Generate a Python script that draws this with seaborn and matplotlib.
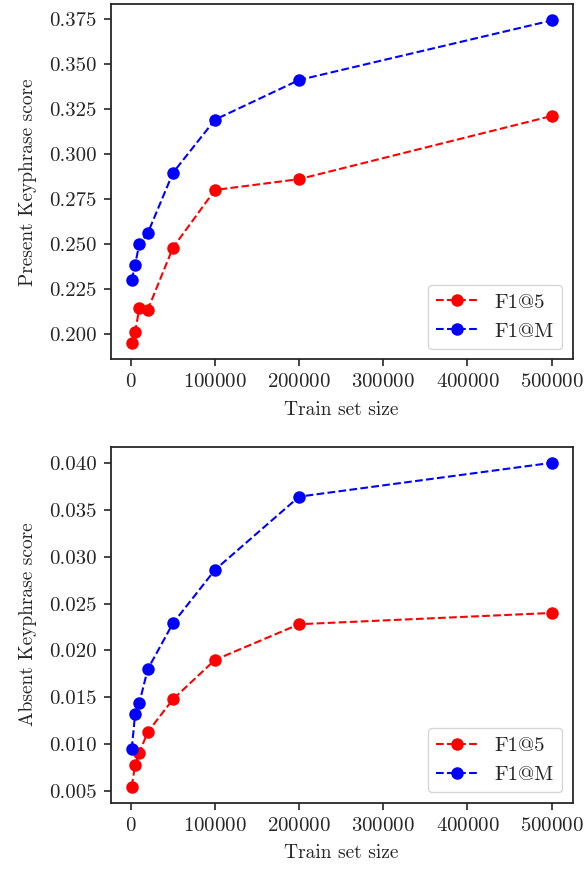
import matplotlib
matplotlib.use('Agg')
import matplotlib.pyplot as plt
from matplotlib.ticker import FormatStrFormatter
import seaborn as sns
import pandas as pd

# train set sizes
train_size = [1000, 5000, 10000, 20000, 50000, 100000, 200000, 500000]

# present keyphrase scores
present_f1_5 = [0.195, 0.201, 0.2145, 0.2135, 0.248, 0.280, 0.286, 0.321]
present_f1_m = [0.230, 0.2385, 0.250, 0.256, 0.2895, 0.319, 0.341, 0.374]

# absent keyphrase scores
absent_f1_5 = [0.0055, 0.0078, 0.0091, 0.0113, 0.0148, 0.0190, 0.0228, 0.0240]
absent_f1_m = [0.0095, 0.0132, 0.0144, 0.0180, 0.0229, 0.0286, 0.0364, 0.0400]

sns.set_style('ticks')
plt.rcParams['font.family'] = ['cmr10', 'DejaVu Serif']
plt.rcParams['axes.formatter.use_mathtext'] = True
plt.rcParams['font.size'] = 14
plt.rcParams['xtick.labelsize'] = 15
plt.rcParams['ytick.labelsize'] = 15

fig = plt.figure(figsize=(5.86, 8.69), dpi=100)
ax1 = fig.add_axes([0.189, 0.5865, 0.788, 0.4085])
ax2 = fig.add_axes([0.189, 0.0763, 0.788, 0.4097])

panels = [(ax1, present_f1_5, present_f1_m, 'Present Keyphrase score'),
          (ax2, absent_f1_5, absent_f1_m, 'Absent Keyphrase score')]

for ax, f5, fm, ylabel in panels:
    df = pd.DataFrame({'size': train_size, 'F1@5': f5, 'F1@M': fm})
    sns.lineplot(data=df, x='size', y='F1@5', ax=ax, color='red', linestyle='--',
                 marker='o', markersize=9, markeredgewidth=0, label='F1@5')
    sns.lineplot(data=df, x='size', y='F1@M', ax=ax, color='blue', linestyle='--',
                 marker='o', markersize=9, markeredgewidth=0, label='F1@M')
    ax.set_xlabel('Train set size', labelpad=7)
    ax.set_ylabel(ylabel, labelpad=9)
    ax.set_xticks([0, 100000, 200000, 300000, 400000, 500000])
    ax.ticklabel_format(axis='x', style='plain')
    ax.yaxis.set_major_formatter(FormatStrFormatter('%.3f'))
    ax.tick_params(length=5, width=1.2, pad=5)
    ax.legend(loc='lower right', frameon=True, fontsize=15)
    for s in ax.spines.values():
        s.set_linewidth(1.3)

ax1.set_yticks([0.200, 0.225, 0.250, 0.275, 0.300, 0.325, 0.350, 0.375])
ax2.set_yticks([0.005, 0.010, 0.015, 0.020, 0.025, 0.030, 0.035, 0.040])

fig.savefig('out.png', dpi=100)
